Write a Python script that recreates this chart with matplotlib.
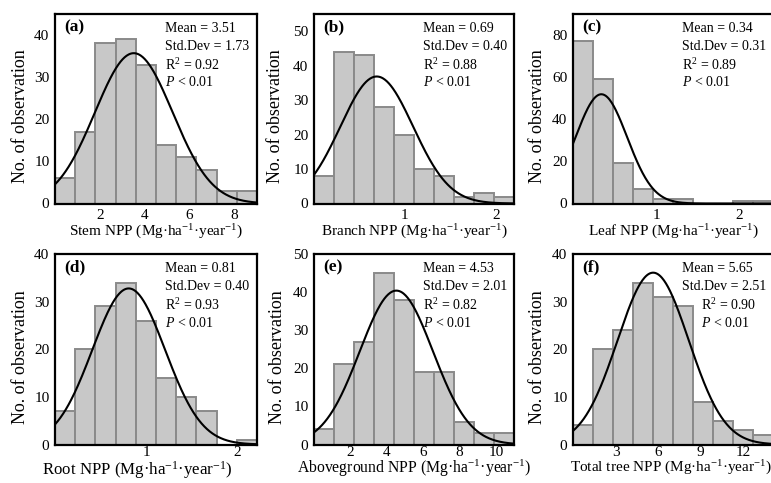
import numpy as np
import matplotlib
matplotlib.use('Agg')
import matplotlib.pyplot as plt

plt.rcParams['font.family'] = ['Liberation Serif', 'DejaVu Serif']
plt.rcParams['mathtext.fontset'] = 'custom'
plt.rcParams['mathtext.rm'] = 'Liberation Serif'
plt.rcParams['mathtext.it'] = 'Liberation Serif:italic'

# Data
panel_ids = ['(a)', '(b)', '(c)', '(d)', '(e)', '(f)']
names = ['Stem', 'Branch', 'Leaf', 'Root', 'Aboveground', 'Total tree']

counts_a = [6, 17, 38, 39, 33, 14, 11, 8, 3, 3]
counts_b = [8, 44, 43, 28, 20, 10, 8, 2, 3, 2]
counts_c = [77, 59, 19, 7, 2, 2, 0, 0, 1, 1]
counts_d = [7, 20, 29, 34, 26, 14, 10, 7, 0, 1]
counts_e = [4, 21, 27, 45, 38, 19, 19, 6, 3, 3]
counts_f = [4, 20, 24, 34, 31, 29, 9, 5, 3, 2]
all_counts = [counts_a, counts_b, counts_c, counts_d, counts_e, counts_f]

bin_width = [0.9, 0.22, 0.24, 0.222, 1.1, 1.41]

means = [3.51, 0.69, 0.34, 0.81, 4.53, 5.65]
sds = [1.73, 0.40, 0.31, 0.40, 2.01, 2.51]
r2 = ['0.92', '0.88', '0.89', '0.93', '0.82', '0.90']

xticks = [[2, 4, 6, 8], [1, 2], [1, 2], [1, 2], [2, 4, 6, 8, 10], [3, 6, 9, 12]]
yticks = [[0, 10, 20, 30, 40], [0, 10, 20, 30, 40, 50], [0, 20, 40, 60, 80],
          [0, 10, 20, 30, 40], [0, 10, 20, 30, 40, 50], [0, 10, 20, 30, 40]]
ytop = [45, 55, 90, 40, 50, 40]

W, H = 771, 483
fig = plt.figure(figsize=(W / 100, H / 100), dpi=100)

lefts = [55, 314, 573]
widths = [202, 200, 200]
rows = [(14, 203.5), (254, 444.5)]

# label placement tweaks (axes fractions)
xlab_x = [0.5, 0.5, 0.5, 0.405, 0.5, 0.49]
xlab_y = [-0.15, -0.15, -0.15, -0.133, -0.124, -0.124]
xlab_size = [11, 11, 11, 12.2, 11.3, 11]
ylab_x = [-0.172, -0.19, -0.175, -0.172, -0.18, -0.175]

for i in range(6):
    r, c = divmod(i, 3)
    top, bot = rows[r]
    ax = fig.add_axes([lefts[c] / W, (H - bot) / H, widths[c] / W, (bot - top) / H])

    counts = np.array(all_counts[i])
    bw = bin_width[i]
    edges = np.arange(len(counts)) * bw
    ax.bar(edges, counts, width=bw, align='edge', color='#c8c8c8',
           edgecolor='#8a8a8a', linewidth=1.4, zorder=1)

    xmax = bw * len(counts)
    xs = np.linspace(0, xmax, 300)
    n = counts.sum()
    ys = n * bw / (sds[i] * np.sqrt(2 * np.pi)) * np.exp(-0.5 * ((xs - means[i]) / sds[i]) ** 2)
    ax.plot(xs, ys, color='black', lw=1.5, zorder=3)

    ax.set_xlim(0, xmax)
    ax.set_ylim(0, ytop[i])
    ax.set_xticks(xticks[i])
    ax.set_yticks(yticks[i])
    ax.tick_params(length=0, labelsize=11, pad=4)
    if r == 1:
        ax.tick_params(axis='x', pad=1)
    for s in ax.spines.values():
        s.set_linewidth(1.6)
        s.set_zorder(4)

    ax.set_xlabel(names[i] + ' NPP (Mg\u00b7ha$^{-1}$\u00b7year$^{-1}$)', fontsize=xlab_size[i])
    ax.xaxis.label.set_verticalalignment('center')
    ax.xaxis.set_label_coords(xlab_x[i], xlab_y[i])

    ax.set_ylabel('No. of observation', fontsize=13)
    ax.yaxis.label.set_verticalalignment('center')
    ax.yaxis.set_label_coords(ylab_x[i], 0.46)

    ax.text(0.045, 0.93, panel_ids[i], transform=ax.transAxes, fontsize=12.5,
            fontweight='bold', va='center', ha='left')

    tx = 0.545
    ax.text(tx, 0.925, 'Mean = %.2f' % means[i], transform=ax.transAxes,
            fontsize=10, va='center', ha='left')
    ax.text(tx, 0.828, 'Std.Dev = %.2f' % sds[i], transform=ax.transAxes,
            fontsize=10, va='center', ha='left')
    tx2 = tx + 0.095 if i == 5 else tx
    ax.text(tx2, 0.733, 'R$^2$ = ' + r2[i], transform=ax.transAxes,
            fontsize=10, va='center', ha='left')
    ax.text(tx2, 0.64, '$P$ < 0.01', transform=ax.transAxes,
            fontsize=10, va='center', ha='left')

fig.savefig('out.png', dpi=100)
